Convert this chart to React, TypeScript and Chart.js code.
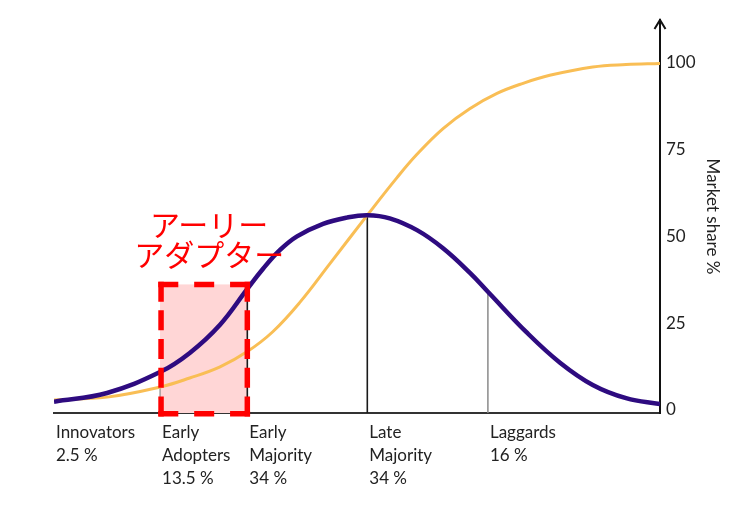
import { useEffect, useRef } from "react";
import { Chart, registerables } from "chart.js";

Chart.register(...registerables);

// Horizontal position along the adoption timeline (0 = start, 100 = end)
const bellPositions = [0, 8.75, 17.5, 22.4, 27.4, 31.9, 34.5, 37.3, 40.1, 44.4, 48.3, 51.7, 55.4, 59.9, 64.2, 68.6, 71.6, 78, 83.5, 88.9, 94.4, 100];
// Bell curve: adopters per period
const adoptersShare = [2.4, 4.9, 10.9, 16.4, 24.5, 34.8, 40.6, 46.0, 49.9, 53.5, 55.3, 56.0, 55.1, 51.7, 46.5, 39.5, 34.0, 22.3, 13.6, 7.2, 3.4, 1.7];
// S curve: cumulative market share %
const sCurvePositions = [0, 8.75, 17.5, 22.4, 27.4, 31.9, 36.1, 40.6, 45.5, 51.7, 56.6, 59.9, 64.2, 68.6, 73.1, 77.4, 81.8, 88.9, 94.4, 100];
const marketShare = [2.9, 3.7, 6.6, 9.2, 12.4, 16.8, 22.5, 31.0, 42.0, 56.0, 66.8, 73.5, 80.9, 86.6, 91.0, 93.9, 96.2, 98.6, 99.3, 99.6];
// Segment start positions and their labels
const segmentStarts = [0, 17.5, 31.9, 51.7, 71.6];
const segmentLabels = [
  ["Innovators", "2.5 %"],
  ["Early", "Adopters", "13.5 %"],
  ["Early", "Majority", "34 %"],
  ["Late", "Majority", "34 %"],
  ["Laggards", "16 %"],
];
const yTicks = [0, 25, 50, 75, 100];
const yAxisTitle = "Market share %";
const highlightSegment = 1; // Early Adopters
const highlightTop = 36.1;
const highlightText = ["アーリー", "アダプター"];

const Y_MIN = -0.86;
const Y_MAX = 112.1;
const dividerColors = ["#8a8a8a", "#1a1a1a", "#1a1a1a", "#8a8a8a"];
const dividerWidths = [1.2, 1.6, 1.6, 1.5];

function drawDashedSide(ctx: CanvasRenderingContext2D, x0: number, y0: number, x1: number, y1: number, dash: number, gapTarget: number) {
  const L = Math.hypot(x1 - x0, y1 - y0);
  const n = Math.max(2, Math.round((L + gapTarget) / (dash + gapTarget)));
  const gap = (L - n * dash) / (n - 1);
  ctx.setLineDash([dash, gap]);
  ctx.beginPath();
  ctx.moveTo(x0, y0);
  ctx.lineTo(x1, y1);
  ctx.stroke();
}

const annotationPlugin = {
  id: "adopterAnnotation",
  beforeDatasetsDraw(chart: any) {
    const { ctx, chartArea, scales } = chart;
    const x0 = scales.x.getPixelForValue(segmentStarts[highlightSegment]);
    const x1 = scales.x.getPixelForValue(segmentStarts[highlightSegment + 1]);
    const yt = scales.y.getPixelForValue(highlightTop);
    const yb = chartArea.bottom;
    ctx.save();
    ctx.fillStyle = "#FFD6D6";
    ctx.fillRect(x0, yt, x1 - x0, yb - yt);
    ctx.restore();
  },
  afterDatasetsDraw(chart: any) {
    const { ctx, chartArea, scales } = chart;
    const x0 = scales.x.getPixelForValue(segmentStarts[highlightSegment]) + 1;
    const x1 = scales.x.getPixelForValue(segmentStarts[highlightSegment + 1]);
    const yt = scales.y.getPixelForValue(highlightTop);
    const yb = chartArea.bottom + 0.7;
    const lw = 5.5;
    const h = lw / 2;
    ctx.save();
    ctx.strokeStyle = "#FF0000";
    ctx.lineWidth = lw;
    ctx.lineCap = "butt";
    drawDashedSide(ctx, x0 - h, yt, x1 + h, yt, 20, 13);
    drawDashedSide(ctx, x1, yt - h, x1, yb + h, 20, 12);
    drawDashedSide(ctx, x1 + h, yb, x0 - h, yb, 20, 13);
    drawDashedSide(ctx, x0, yb + h, x0, yt - h, 20, 12);
    ctx.restore();
  },
  afterDraw(chart: any) {
    const { ctx, chartArea, scales } = chart;
    // arrow head on the value axis
    const ax = chartArea.right;
    const at = chartArea.top;
    ctx.save();
    ctx.strokeStyle = "#111";
    ctx.lineWidth = 2;
    ctx.setLineDash([]);
    ctx.beginPath();
    ctx.moveTo(ax - 5.5, at + 9);
    ctx.lineTo(ax, at);
    ctx.lineTo(ax + 5.5, at + 9);
    ctx.stroke();
    // red label
    ctx.fillStyle = "#FF0000";
    ctx.font = "30px 'Noto Sans CJK JP'";
    ctx.textAlign = "center";
    ctx.textBaseline = "middle";
    const cx = scales.x.getPixelForValue(25.6);
    ctx.fillText(highlightText[0], cx, scales.y.getPixelForValue(53.4));
    ctx.fillText(highlightText[1], cx, scales.y.getPixelForValue(44.7));
    ctx.restore();
  },
};

export default function App() {
  const ref = useRef<HTMLCanvasElement>(null);
  useEffect(() => {
    document.body.style.margin = "0";
    const canvas = ref.current!;
    const pts = (xs: number[], ys: number[]) => xs.map((p, i) => ({ x: p, y: ys[i] }));
    const dividers = segmentStarts.slice(1).map((b, k) => ({
      data: [
        { x: b, y: Y_MIN },
        { x: b, y: adoptersShare[bellPositions.indexOf(b)] },
      ],
      borderColor: dividerColors[k],
      borderWidth: dividerWidths[k],
      pointRadius: 0,
      tension: 0,
    }));
    const chart = new Chart(canvas, {
      type: "line",
      data: {
        datasets: [
          {
            data: pts(bellPositions, adoptersShare),
            borderColor: "#2E0B80",
            borderWidth: 4.5,
            pointRadius: 0,
            tension: 0.4,
          },
          {
            data: pts(sCurvePositions, marketShare),
            borderColor: "#F9BE55",
            borderWidth: 3,
            pointRadius: 0,
            tension: 0.4,
          },
          ...dividers,
        ] as any,
      },
      options: {
        animation: false,
        responsive: false,
        maintainAspectRatio: false,
        layout: { padding: { left: 54, top: 20, right: 0, bottom: 0 } },
        plugins: { legend: { display: false }, tooltip: { enabled: false } },
        scales: {
          x: {
            type: "linear",
            min: 0,
            max: 100,
            grid: { display: false, drawTicks: false },
            border: { display: true, color: "#333", width: 2 },
            afterBuildTicks: (s: any) => {
              s.ticks = segmentStarts.map((v) => ({ value: v }));
            },
            afterFit: (s: any) => {
              s.height = 92;
            },
            ticks: {
              autoSkip: false,
              maxRotation: 0,
              minRotation: 0,
              align: "start",
              padding: 8,
              labelOffset: 2,
              color: "#222",
              font: { family: "Lato", size: 17, lineHeight: 1.35 },
              callback: (_v: any, i: number) => segmentLabels[i],
            },
          },
          y: {
            type: "linear",
            position: "right",
            min: Y_MIN,
            max: Y_MAX,
            grid: { display: false, drawTicks: false },
            border: { display: true, color: "#111", width: 2 },
            afterBuildTicks: (s: any) => {
              s.ticks = yTicks.map((v) => ({ value: v }));
            },
            afterFit: (s: any) => {
              s.width = 88;
            },
            ticks: {
              padding: 6,
              color: "#222",
              font: { family: "Lato", size: 17 },
              callback: (v: any) => String(v),
            },
            title: {
              display: true,
              text: yAxisTitle,
              color: "#222",
              font: { family: "Lato", size: 17 },
              padding: { top: 25, bottom: 0 },
            },
          },
        },
      } as any,
      plugins: [annotationPlugin],
    });
    return () => chart.destroy();
  }, []);
  return (
    <div style={{ width: 748, height: 505 }}>
      <canvas ref={ref} width={748} height={505} style={{ display: "block" }} />
    </div>
  );
}
